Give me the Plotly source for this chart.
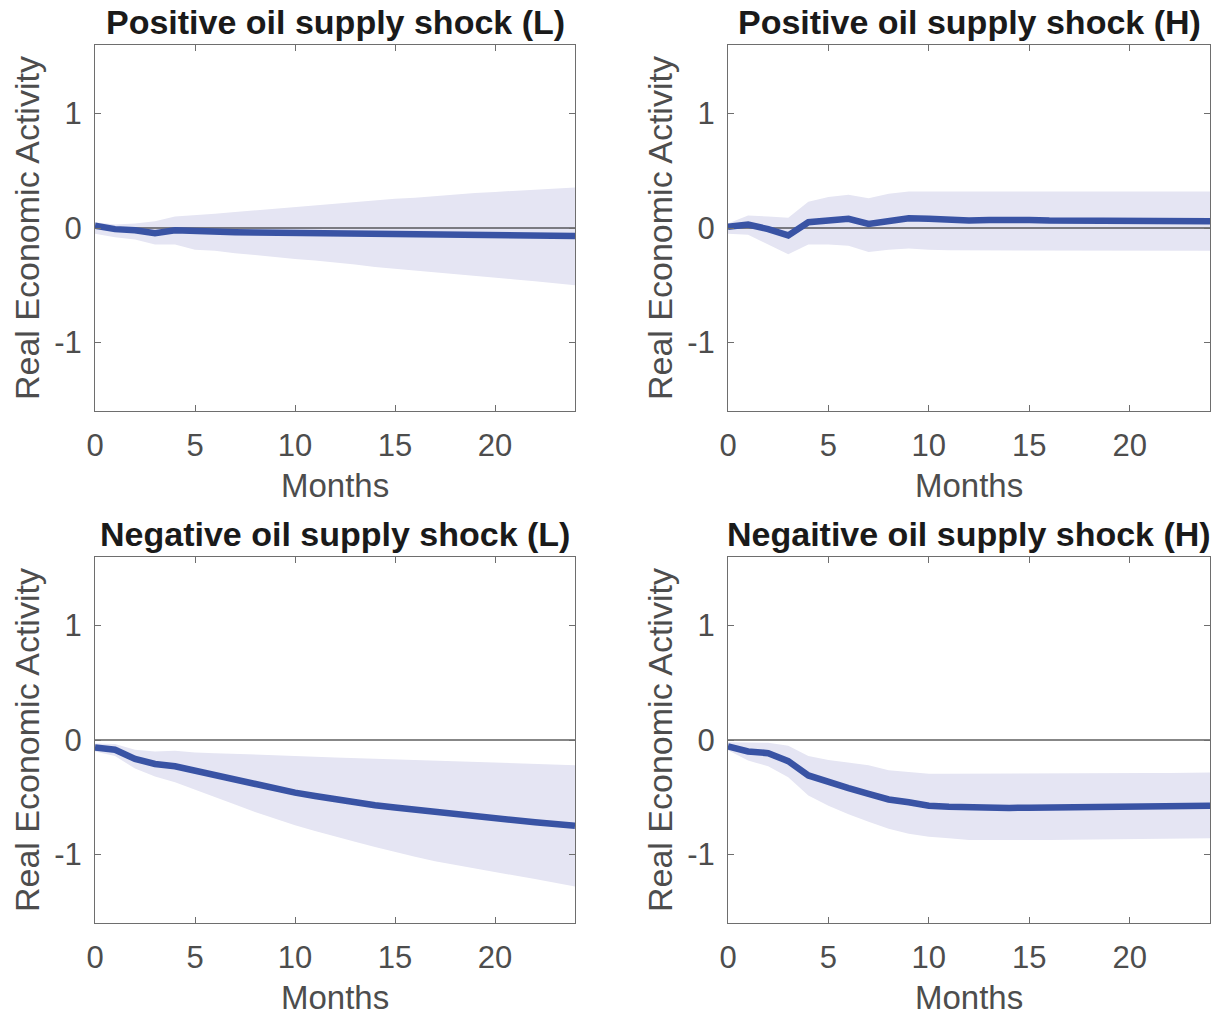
import plotly.graph_objects as go

months = list(range(25))

# Positive oil supply shock (L)
pos_l_mid = [0.02, -0.01, -0.02, -0.045, -0.02, -0.03, -0.034, -0.037, -0.04, -0.042, -0.044,
             -0.046, -0.048, -0.05, -0.052, -0.054, -0.056, -0.058, -0.06, -0.062, -0.064,
             -0.065, -0.066, -0.068, -0.07]
pos_l_up = [0.05, 0.03, 0.04, 0.06, 0.10, 0.11, 0.125, 0.14, 0.155, 0.17, 0.18, 0.195, 0.21,
            0.225, 0.24, 0.255, 0.265, 0.28, 0.29, 0.305, 0.315, 0.325, 0.335, 0.345, 0.355]
pos_l_lo = [-0.05, -0.08, -0.10, -0.145, -0.145, -0.19, -0.20, -0.22, -0.235, -0.25, -0.27,
            -0.285, -0.30, -0.32, -0.34, -0.36, -0.375, -0.39, -0.405, -0.42, -0.435, -0.45,
            -0.465, -0.48, -0.50]

# Positive oil supply shock (H)
pos_h_mid = [0.01, 0.03, -0.01, -0.065, 0.05, 0.07, 0.08, 0.035, 0.06, 0.085, 0.08, 0.07,
             0.065, 0.07, 0.075, 0.07, 0.065, 0.065, 0.065, 0.065, 0.065, 0.063, 0.062, 0.061,
             0.06]
pos_h_up = [0.04, 0.11, 0.10, 0.09, 0.23, 0.27, 0.29, 0.26, 0.30, 0.32, 0.32, 0.32, 0.315,
            0.32, 0.32, 0.32, 0.32, 0.32, 0.32, 0.32, 0.32, 0.32, 0.32, 0.32, 0.32]
pos_h_lo = [-0.05, -0.06, -0.145, -0.23, -0.145, -0.145, -0.155, -0.21, -0.19, -0.18, -0.19,
            -0.195, -0.195, -0.195, -0.195, -0.195, -0.195, -0.195, -0.195, -0.197, -0.198,
            -0.198, -0.2, -0.2, -0.2]

# Negative oil supply shock (L)
neg_l_mid = [-0.065, -0.085, -0.165, -0.21, -0.23, -0.27, -0.31, -0.35, -0.39, -0.425, -0.46,
             -0.49, -0.52, -0.55, -0.57, -0.59, -0.61, -0.63, -0.65, -0.67, -0.69, -0.705,
             -0.72, -0.735, -0.75]
neg_l_up = [-0.03, -0.035, -0.085, -0.10, -0.093, -0.11, -0.115, -0.12, -0.127, -0.133, -0.14,
            -0.146, -0.152, -0.158, -0.164, -0.17, -0.176, -0.182, -0.188, -0.194, -0.2,
            -0.205, -0.21, -0.215, -0.22]
neg_l_lo = [-0.10, -0.14, -0.25, -0.32, -0.37, -0.44, -0.50, -0.565, -0.63, -0.69, -0.745,
            -0.795, -0.845, -0.89, -0.935, -0.98, -1.02, -1.06, -1.095, -1.125, -1.155, -1.185,
            -1.215, -1.245, -1.28]

# Negative oil supply shock (H)
neg_h_mid = [-0.055, -0.10, -0.115, -0.185, -0.31, -0.37, -0.42, -0.47, -0.52, -0.545, -0.575,
             -0.583, -0.59, -0.592, -0.594, -0.592, -0.59, -0.588, -0.586, -0.584, -0.582, -0.58,
             -0.578, -0.577, -0.575]
neg_h_up = [-0.02, -0.02, -0.025, -0.05, -0.14, -0.175, -0.195, -0.22, -0.265, -0.28, -0.295,
            -0.295, -0.295, -0.295, -0.295, -0.295, -0.294, -0.293, -0.292, -0.291, -0.29,
            -0.289, -0.288, -0.287, -0.285]
neg_h_lo = [-0.09, -0.18, -0.23, -0.325, -0.485, -0.575, -0.65, -0.715, -0.775, -0.82, -0.845,
            -0.86, -0.875, -0.876, -0.877, -0.876, -0.875, -0.873, -0.871, -0.869, -0.867,
            -0.865, -0.863, -0.861, -0.86]

titles = ["Positive oil supply shock (L)", "Positive oil supply shock (H)",
          "Negative oil supply shock (L)", "Negaitive oil supply shock (H)"]
panels = [(pos_l_mid, pos_l_up, pos_l_lo), (pos_h_mid, pos_h_up, pos_h_lo),
          (neg_l_mid, neg_l_up, neg_l_lo), (neg_h_mid, neg_h_up, neg_h_lo)]

W, H = 1223, 1016
x_doms = [(95 / W, 575 / W), (728 / W, 1210 / W)]
y_doms = [(1 - 411 / H, 1 - 45 / H), (1 - 923 / H, 1 - 557 / H)]

LINE_BLUE = "#3953a4"
BAND = "rgba(229,229,243,1)"
AX_GREY = "#6e6e6e"
TXT_GREY = "#4d4d4d"
FONT = "Liberation Sans, Arial, sans-serif"

fig = go.Figure()
layout = dict(
    width=W, height=H, margin=dict(l=0, r=0, t=0, b=0, autoexpand=False),
    paper_bgcolor="white", plot_bgcolor="white", showlegend=False,
    font=dict(family=FONT, color=TXT_GREY),
)
annotations = []

for i, (mid, up, lo) in enumerate(panels):
    r, c = divmod(i, 2)
    n = i + 1
    xa = "x" if n == 1 else f"x{n}"
    ya = "y" if n == 1 else f"y{n}"
    # confidence band
    fig.add_trace(go.Scatter(x=months + months[::-1], y=up + lo[::-1], fill="toself",
                             fillcolor=BAND, line=dict(width=0), mode="lines",
                             hoverinfo="skip", xaxis=xa, yaxis=ya))
    # zero reference line
    fig.add_trace(go.Scatter(x=[months[0], months[-1]], y=[0, 0], mode="lines",
                             line=dict(color="#111111", width=1.2), xaxis=xa, yaxis=ya))
    # median response
    fig.add_trace(go.Scatter(x=months, y=mid, mode="lines",
                             line=dict(color=LINE_BLUE, width=6.5), xaxis=xa, yaxis=ya))

    axis_common = dict(showgrid=False, zeroline=False, showline=True, linecolor=AX_GREY,
                       linewidth=1, mirror="ticks", ticks="inside", ticklen=6,
                       tickcolor=AX_GREY, automargin=False,
                       tickfont=dict(size=31, color=TXT_GREY, family=FONT))
    layout[f"xaxis{n if n > 1 else ''}"] = dict(
        axis_common, domain=x_doms[c], range=[0, 24], tickvals=[0, 5, 10, 15, 20],
        anchor=ya, ticklabelstandoff=7)
    layout[f"yaxis{n if n > 1 else ''}"] = dict(
        axis_common, domain=y_doms[r], range=[-1.6, 1.6], tickvals=[-1, 0, 1],
        ticktext=["-1", "0", "1"], anchor=xa, ticklabelstandoff=6)

    x_mid = (x_doms[c][0] + x_doms[c][1]) / 2
    top_px = 45 if r == 0 else 557
    bot_px = 411 if r == 0 else 923
    left_px = 95 if c == 0 else 728
    # panel title
    annotations.append(dict(
        text=f"<b>{titles[i]}</b>", xref="paper", yref="paper",
        x=x_mid, y=1 - (top_px - 23) / H, yanchor="middle", xanchor="center",
        showarrow=False, font=dict(size=34, color="#1a1a1a", family=FONT)))
    # x-axis title
    annotations.append(dict(
        text="Months", xref="paper", yref="paper",
        x=x_mid, y=1 - (bot_px + 74) / H, yanchor="middle", xanchor="center",
        showarrow=False, font=dict(size=33, color=TXT_GREY, family=FONT)))
    # y-axis title
    annotations.append(dict(
        text="Real Economic Activity", xref="paper", yref="paper", textangle=-90,
        x=(left_px - 68) / W, y=1 - (top_px + bot_px) / 2 / H,
        yanchor="middle", xanchor="center",
        showarrow=False, font=dict(size=34, color=TXT_GREY, family=FONT)))

layout["annotations"] = annotations
fig.update_layout(**layout)
fig.write_html("out.html")
